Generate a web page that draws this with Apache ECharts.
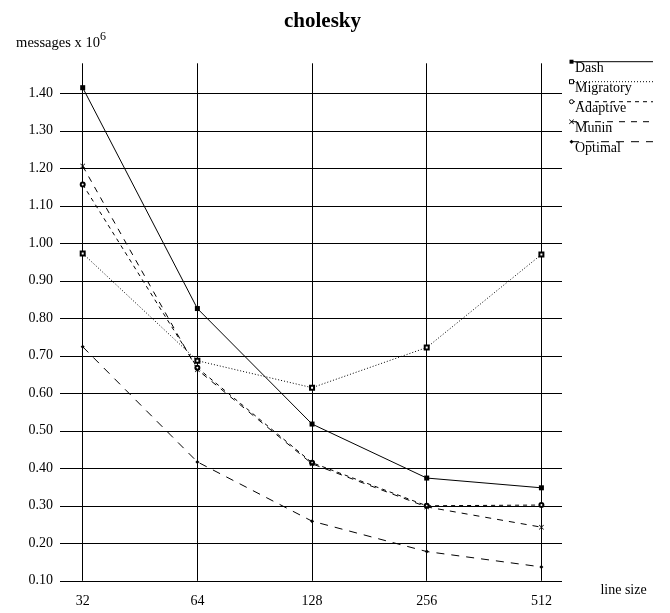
<!DOCTYPE html>
<html><head><meta charset="utf-8">
<script src="https://cdn.jsdelivr.net/npm/echarts@6/dist/echarts.min.js"></script>
<style>html,body{margin:0;padding:0;background:#fff}#c{width:670px;height:613px}</style>
</head><body><div id="c"></div>
<script>
// ---- data ----
const categories = ['32', '64', '128', '256', '512'];
const seriesNames = ['Dash', 'Migratory', 'Adaptive', 'Munin', 'Optimal'];
const dashValues      = [1.415, 0.826, 0.518, 0.374, 0.348];
const migratoryValues = [0.973, 0.687, 0.615, 0.722, 0.970];
const adaptiveValues  = [1.157, 0.668, 0.415, 0.300, 0.302];
const muninValues     = [1.206, 0.663, 0.412, 0.297, 0.243];
const optimalValues   = [0.724, 0.417, 0.259, 0.178, 0.137];
const yTickValues = [0.10, 0.20, 0.30, 0.40, 0.50, 0.60, 0.70, 0.80, 0.90, 1.00, 1.10, 1.20, 1.30, 1.40];

const FONT = 'Liberation Serif';
const INK = '#000';
const X_MARK = 'path://M0,1L1,0L5,4L9,0L10,1L6,5L10,9L9,10L5,6L1,10L0,9L4,5Z';

const styles = [
  { data: dashValues,      dash: 'solid', symbol: 'rect',        size: 5, border: 0 },
  { data: migratoryValues, dash: [1, 2],  symbol: 'emptyRect',   size: 4, border: 1 },
  { data: adaptiveValues,  dash: [4, 4],  symbol: 'emptyCircle', size: 4, border: 1 },
  { data: muninValues,     dash: [6, 6],  symbol: X_MARK,        size: 5, border: 0 },
  { data: optimalValues,   dash: [8, 7],  symbol: 'diamond',     size: 4, border: 0 }
];

const yMin = yTickValues[0];
const yMax = yTickValues[yTickValues.length - 1];
const yStep = 0.1;

// layout constants
const plotLeft = 60, plotRight = 562, catLeft = 82.7, catRight = 541.4;
const yTopTick = 93.3, yBottom = 580.8, vTop = 63.3;
const pxPerUnit = (yBottom - yTopTick) / (yMax - yMin);
const yMaxExt = yMax + (yTopTick - vTop) / pxPerUnit;

const series = styles.map((s, i) => ({
  name: seriesNames[i],
  type: 'line',
  xAxisIndex: 0,
  yAxisIndex: 0,
  data: s.data,
  symbol: s.symbol,
  symbolSize: s.size,
  showAllSymbol: true,
  itemStyle: { color: INK, borderColor: INK, borderWidth: s.border },
  lineStyle: { color: INK, width: 1, type: s.dash },
  emphasis: { disabled: true },
  z: 5
}));

// legend drawn as graphic (line above, marker at left end, text below)
function marker(i, cx, cy) {
  switch (i) {
    case 0: return { type: 'rect', shape: { x: cx - 2, y: cy - 2, width: 4, height: 4 }, style: { fill: INK } };
    case 1: return { type: 'rect', shape: { x: cx - 2, y: cy - 2, width: 4, height: 4 }, style: { fill: '#fff', stroke: INK, lineWidth: 1 } };
    case 2: return { type: 'circle', shape: { cx: cx, cy: cy, r: 2 }, style: { fill: '#fff', stroke: INK, lineWidth: 1 } };
    case 3: return { type: 'polygon', shape: { points: [[cx-2.5,cy-2],[cx-2,cy-2.5],[cx,cy-0.5],[cx+2,cy-2.5],[cx+2.5,cy-2],[cx+0.5,cy],[cx+2.5,cy+2],[cx+2,cy+2.5],[cx,cy+0.5],[cx-2,cy+2.5],[cx-2.5,cy+2],[cx-0.5,cy]] }, style: { fill: INK } };
    default: return { type: 'polygon', shape: { points: [[cx, cy-2], [cx+2, cy], [cx, cy+2], [cx-2, cy]] }, style: { fill: INK } };
  }
}
const legendGraphics = [];
styles.forEach((s, i) => {
  const ly = 61.7 + 20 * i;
  const dashArr = s.dash === 'solid' ? null : s.dash;
  legendGraphics.push({
    type: 'line', shape: { x1: 571, y1: ly, x2: 653, y2: ly },
    style: { stroke: INK, lineWidth: 1, lineDash: dashArr }, silent: true
  });
  const m = marker(i, 571.5, ly); m.silent = true; m.z = 10;
  legendGraphics.push(m);
  legendGraphics.push({
    type: 'text', x: 575, y: ly + 6.8,
    style: { text: seriesNames[i], font: '14px "' + FONT + '"', fill: INK, verticalAlign: 'middle', align: 'left' },
    silent: true
  });
});

const option = {
  animation: false,
  backgroundColor: '#fff',
  title: {
    text: 'cholesky', left: 284, top: 10, padding: 0,
    textStyle: { fontFamily: FONT, fontWeight: 'bold', fontSize: 21, color: INK, lineHeight: 24 }
  },
  grid: [
    { left: catLeft, right: 670 - catRight, top: vTop, bottom: 613 - yBottom, containLabel: false, outerBoundsMode: 'none', show: false },
    { left: plotLeft, right: 670 - plotRight, top: yTopTick, bottom: 613 - yBottom, containLabel: false, outerBoundsMode: 'none', show: false }
  ],
  xAxis: [
    {
      gridIndex: 0, type: 'category', data: categories, boundaryGap: false,
      axisLine: { show: false }, axisTick: { show: false },
      axisLabel: { color: INK, fontFamily: FONT, fontSize: 14, margin: 14, interval: 0 },
      splitLine: { show: true, lineStyle: { color: INK, width: 1 } },
      name: 'line size', nameLocation: 'end', nameGap: 59,
      nameTextStyle: { color: INK, fontFamily: FONT, fontSize: 14, verticalAlign: 'top', lineHeight: 16, padding: [2, 0, 0, 0] }
    },
    { gridIndex: 1, type: 'value', show: false, min: 0, max: 1 }
  ],
  yAxis: [
    {
      gridIndex: 0, type: 'value', min: yMin, max: yMaxExt, interval: yStep,
      show: false, splitLine: { show: false }
    },
    {
      gridIndex: 1, type: 'value', min: yMin, max: yMax, interval: yStep,
      axisLine: { show: false }, axisTick: { show: false },
      axisLabel: { color: INK, fontFamily: FONT, fontSize: 14, margin: 7, formatter: v => v.toFixed(2) },
      splitLine: { show: true, lineStyle: { color: INK, width: 1 } },
      name: '{a|messages x 10}{b|6}', nameLocation: 'end', nameGap: 38,
      nameTextStyle: {
        color: INK, align: 'center', padding: [0, 0, 0, 2],
        rich: {
          a: { fontFamily: FONT, fontSize: 14.5, color: INK, lineHeight: 24, verticalAlign: 'middle' },
          b: { fontFamily: FONT, fontSize: 12, color: INK, lineHeight: 10, verticalAlign: 'top' }
        }
      }
    }
  ],
  series: series,
  graphic: legendGraphics
};

const chart = echarts.init(document.getElementById('c'), null, { renderer: 'canvas' });
chart.setOption(option);
</script></body></html>
